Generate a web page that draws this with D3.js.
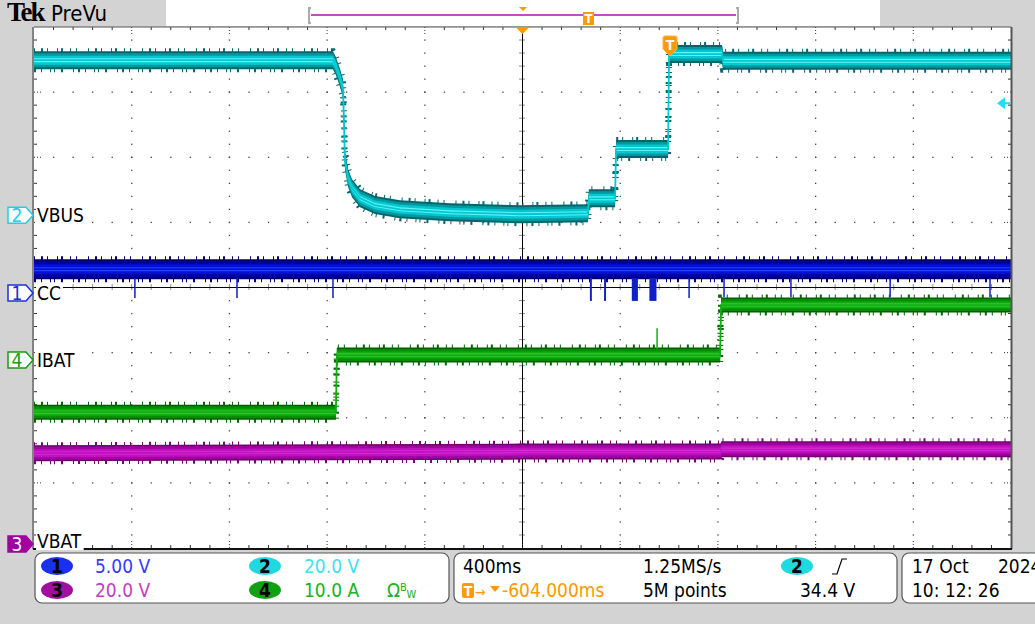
<!DOCTYPE html>
<html lang="en">
<head>
<meta charset="utf-8">
<script src="https://cdn.jsdelivr.net/npm/d3@7"></script>
<style>
  body { margin: 0; background: #d3d3d3; }
  svg text { font-family: 'Liberation Sans Narrow', 'DejaVu Sans Condensed', 'Liberation Sans', sans-serif; }
</style>
</head>
<body>
<script>
// time in ms from the left edge of the screen, 400 ms/div, 10 div
const timeDomain = [0, 4000];

// channel setup: 1 CC, 2 VBUS, 3 VBAT, 4 IBAT
const chIds = [1, 2, 3, 4];
const chNames = ["CC", "VBUS", "VBAT", "IBAT"];
const chPos = [-0.086, 1.11, -3.94, -1.115];        // ground position, divisions
const chPerDiv = [5, 20, 20, 10];
const chScaleText = ["5.00 V", "20.0 V", "20.0 V", "10.0 A"];

// CH2 VBUS (V)
const vbusT = [0, 1224, 1236, 1253, 1265, 1269, 1273, 1286, 1302, 1335, 1396, 1498, 1703, 1990, 2268,
               2272, 2379, 2383, 2596, 2600, 2817, 2821, 4000];
const vbusV = [47.6, 47.6, 45.8, 42.1, 39.0, 29.2, 16.9, 11.4, 8.3, 5.2, 3.1, 1.8, 0.9, 0.3, 0.6,
               5.2, 5.2, 20.3, 20.3, 49.5, 49.5, 47.4, 47.4];

// CH1 CC (V)
const ccT = [0, 4000];
const ccV = [1.84, 1.84];
const ccSpikeT = [413, 831, 1224, 2280, 2338, 2460, 2534, 2682, 2825, 3099, 3505, 3914];
const ccSpikeW = [6, 6, 6, 8, 8, 25, 29, 6, 6, 6, 6, 6];
const ccSpikeV = [-0.38, -0.38, -0.38, -0.6, -0.6, -0.6, -0.6, -0.38, -0.31, -0.31, -0.31, -0.31];

// CH4 IBAT (A)
const ibatT = [0, 1236, 1240, 2809, 2813, 4000];
const ibatV = [-8.0, -8.0, 0.77, 0.77, 8.45, 8.45];
const ibatGlitchT = [2551];
const ibatGlitchV = [4.9];

// CH3 VBAT (V)
const vbatT = [0, 1230, 2000, 2811, 2815, 4000];
const vbatV = [27.9, 28.2, 28.4, 28.4, 29.1, 29.1];

// trigger
const trigT = 2604;
const trigLevel = 34.4;

// readouts
const timebaseText = "400ms";
const sampleText = "1.25MS/s";
const pointsText = "5M points";
const delayText = "-604.000ms";
const trigLevelText = "34.4 V";
const dateText = ["17 Oct", "2024", "10: 12: 26"];

const W = 1035, H = 624;
const x0 = 34, x1 = 1011, y0 = 27, y1 = 548;
const divW = (x1 - x0) / 10, divH = (y1 - y0) / 8;

const svg = d3.select("body").append("svg").attr("width", W).attr("height", H);

const xScale = d3.scaleLinear().domain(timeDomain).range([x0, x1]);
const yDiv = d3.scaleLinear().domain([-4, 4]).range([y1, y0]);
const yOf = (ch) => (v) => yDiv(chPos[ch] + v / chPerDiv[ch]);

// backgrounds
svg.append("rect").attr("width", W).attr("height", H).attr("fill", "#d3d3d3");
svg.append("rect").attr("x", 166).attr("y", 0).attr("width", 714).attr("height", 26).attr("fill", "#fff");
svg.append("rect").attr("x", x0).attr("y", y0).attr("width", x1 - x0).attr("height", y1 - y0).attr("fill", "#fff");

// header
svg.append("text").attr("x", 7).attr("y", 21).attr("font-size", 27)
  .style("font-family", "'Liberation Serif', serif").attr("font-weight", "bold")
  .attr("letter-spacing", -2).text("Tek");
svg.append("text").attr("x", 51).attr("y", 21).attr("font-size", 22).text("PreVu");

// record bar
svg.append("path").attr("d", "M311,8 L309,8 L309,23 L311,23").attr("fill", "none").attr("stroke", "#aaa").attr("stroke-width", 2);
svg.append("path").attr("d", "M736,8 L738,8 L738,23 L736,23").attr("fill", "none").attr("stroke", "#aaa").attr("stroke-width", 2);
svg.append("line").attr("x1", 311).attr("x2", 736).attr("y1", 15).attr("y2", 15).attr("stroke", "#c050c0").attr("stroke-width", 2);
svg.append("path").attr("d", "M519,7 L527,7 L523,11 Z").attr("fill", "#ff9900");
svg.append("rect").attr("x", 583).attr("y", 12).attr("width", 11).attr("height", 13).attr("fill", "#ff9900");
svg.append("text").attr("x", 588.5).attr("y", 23).attr("text-anchor", "middle").attr("font-size", 13).attr("fill", "#fff").attr("font-weight", "bold").text("T");

// graticule
const grid = svg.append("g");
const dot = (x, y) => grid.append("rect").attr("x", x - 0.6).attr("y", y - 0.6).attr("width", 1.3).attr("height", 1.3).attr("fill", "#444");
for (let k = 1; k < 10; k++) {
  if (k === 5) continue;
  for (let j = 1; j < 40; j++) dot(x0 + k * divW, y0 + j * divH / 5);
}
for (let k = 1; k < 8; k++) {
  if (k === 4) continue;
  for (let i = 1; i < 50; i++) dot(x0 + i * divW / 5, y0 + k * divH);
}
const xc = x0 + 5 * divW, yc = y0 + 4 * divH;
grid.append("line").attr("x1", xc).attr("x2", xc).attr("y1", y0).attr("y2", y1).attr("stroke", "#000");
grid.append("line").attr("x1", x0).attr("x2", x1).attr("y1", yc).attr("y2", yc).attr("stroke", "#000");
for (let i = 1; i < 50; i++) {
  const x = x0 + i * divW / 5;
  grid.append("line").attr("x1", x).attr("x2", x).attr("y1", yc - 3).attr("y2", yc + 3).attr("stroke", "#222").attr("stroke-dasharray", "1 1");
  grid.append("line").attr("x1", x).attr("x2", x).attr("y1", y0).attr("y2", y0 + (i % 5 ? 3 : 7)).attr("stroke", "#333").attr("stroke-dasharray", i % 5 ? null : "1 2");
  grid.append("line").attr("x1", x).attr("x2", x).attr("y1", y1).attr("y2", y1 - (i % 5 ? 3 : 7)).attr("stroke", "#333").attr("stroke-dasharray", i % 5 ? null : "1 2");
}
for (let j = 1; j < 40; j++) {
  const y = y0 + j * divH / 5;
  grid.append("line").attr("y1", y).attr("y2", y).attr("x1", xc - 3).attr("x2", xc + 3).attr("stroke", "#222").attr("stroke-dasharray", "1 1");
  grid.append("line").attr("y1", y).attr("y2", y).attr("x1", x0).attr("x2", x0 + (j % 5 ? 3 : 7)).attr("stroke", "#333").attr("stroke-dasharray", j % 5 ? null : "1 2");
  grid.append("line").attr("y1", y).attr("y2", y).attr("x1", x1).attr("x2", x1 - (j % 5 ? 3 : 7)).attr("stroke", "#333").attr("stroke-dasharray", j % 5 ? null : "1 2");
}

// traces: persistence band as stacked areas, fuzzy edges as dashed strokes
function drawTrace(t, v, ch, layers, fuzzColor) {
  const y = yOf(ch);
  const pts = t.map((d, i) => [xScale(d), y(v[i])]);
  const g = svg.append("g");
  const h = layers[0].h;
  [[-h, "1 6 2 4 1 9 1 3 2 7 1 5 1 11"], [h, "2 5 1 8 1 3 1 6 2 10 1 4"]].forEach(([off, dash]) => {
    g.append("path")
      .attr("d", d3.line().x(d => d[0]).y(d => d[1] + off)(pts))
      .attr("fill", "none").attr("stroke", fuzzColor).attr("stroke-width", 6)
      .attr("stroke-dasharray", dash);
  });
  layers.forEach(L => {
    g.append("path")
      .attr("d", d3.area().x(d => d[0]).y0(d => d[1] + L.h).y1(d => d[1] - L.h)(pts))
      .attr("fill", L.c);
  });
  g.append("path").attr("d", d3.line()(pts)).attr("fill", "none")
    .attr("stroke", layers[2].c).attr("stroke-width", 1.8);
  return g;
}

const cyanLayers = [{h: 9, c: "#00666c"}, {h: 7, c: "#0098a0"}, {h: 4.5, c: "#00c8d0"}, {h: 2, c: "#5ef2f6"}];
const blueLayers = [{h: 10, c: "#00006e"}, {h: 8, c: "#0000a4"}, {h: 5, c: "#0010d4"}, {h: 2, c: "#2040ff"}];
const greenLayers = [{h: 7.5, c: "#005e00"}, {h: 6, c: "#008e00"}, {h: 3.5, c: "#10ae10"}, {h: 1.5, c: "#40d040"}];
const magLayers = [{h: 8, c: "#6e006e"}, {h: 6.5, c: "#a000a0"}, {h: 4, c: "#c010c0"}, {h: 1.5, c: "#e040e0"}];

drawTrace(vbatT, vbatV, 2, magLayers, "#7a007a");
drawTrace(ibatT, ibatV, 3, greenLayers, "#006a00");
svg.selectAll(".glitch").data(ibatGlitchT).enter().append("line")
  .attr("x1", d => xScale(d)).attr("x2", d => xScale(d))
  .attr("y1", yOf(3)(ibatV[2]) - 6).attr("y2", (d, i) => yOf(3)(ibatGlitchV[i]))
  .attr("stroke", "#10b010").attr("stroke-width", 1.5);
drawTrace(ccT, ccV, 0, blueLayers, "#00007a");
svg.selectAll(".spike").data(ccSpikeT).enter().append("rect")
  .attr("x", (d, i) => xScale(d - ccSpikeW[i] / 2))
  .attr("width", (d, i) => Math.max(1.5, xScale(ccSpikeW[i]) - xScale(0)))
  .attr("y", yOf(0)(ccV[0]) + 9)
  .attr("height", (d, i) => yOf(0)(ccSpikeV[i]) - yOf(0)(ccV[0]) - 9)
  .attr("fill", "#1020c8");
drawTrace(vbusT, vbusV, 1, cyanLayers, "#006a70");

// frame
svg.append("line").attr("x1", x0 - 1).attr("x2", x0 - 1).attr("y1", y0).attr("y2", y1 + 1).attr("stroke", "#333");
svg.append("line").attr("x1", x0).attr("x2", x1).attr("y1", y0).attr("y2", y0).attr("stroke", "#555");
svg.append("line").attr("x1", x1 + 0.5).attr("x2", x1 + 0.5).attr("y1", y0).attr("y2", y1 + 1).attr("stroke", "#555").attr("stroke-width", 2);
svg.append("line").attr("x1", x0 - 1).attr("x2", x1 + 1).attr("y1", y1 + 1).attr("y2", y1 + 1).attr("stroke", "#111").attr("stroke-width", 2);

// trigger position marker and T on waveform
svg.append("path").attr("d", `M${xc - 7},${y0} L${xc + 7},${y0} L${xc},${y0 + 7} Z`).attr("fill", "#ff9900");
const tx = xScale(trigT);
svg.append("path")
  .attr("d", `M${tx - 7},38 Q${tx - 7},36 ${tx - 5},36 L${tx + 5},36 Q${tx + 7},36 ${tx + 7},38 L${tx + 7},49 L${tx},56 L${tx - 7},49 Z`)
  .attr("fill", "#ff9900").attr("stroke", "#ffb040");
svg.append("text").attr("x", tx).attr("y", 50).attr("text-anchor", "middle")
  .attr("font-size", 14).attr("font-weight", "bold").attr("fill", "#fff").text("T");

// trigger level arrow on the right
const ty = yOf(1)(trigLevel);
svg.append("path").attr("d", `M${x1 - 14},${ty} L${x1 - 6},${ty - 6} L${x1 - 6},${ty + 6} Z`).attr("fill", "#20e0f0");
svg.append("line").attr("x1", x1 - 7).attr("x2", x1 - 1).attr("y1", ty).attr("y2", ty).attr("stroke", "#20e0f0").attr("stroke-width", 2);

// channel markers and labels
const markerColors = ["#2030e0", "#20d0e0", "#a000a0", "#10a010"];
const markerFilled = [false, false, true, false];
chIds.forEach((id, i) => {
  const gy = yOf(i)(0);
  svg.append("path")
    .attr("d", `M8,${gy - 8} L26,${gy - 8} L33,${gy} L26,${gy + 8} L8,${gy + 8} Z`)
    .attr("fill", markerFilled[i] ? markerColors[i] : "#fff")
    .attr("stroke", markerColors[i]).attr("stroke-width", 1.5);
  svg.append("text").attr("x", 17).attr("y", gy + 7).attr("text-anchor", "middle")
    .attr("font-size", 19).attr("fill", markerFilled[i] ? "#fff" : markerColors[i]).text(id);
  const lbl = svg.append("text").attr("x", 37).attr("y", gy + 7 - (i === 2 ? 3 : 0))
    .attr("font-size", 19).attr("fill", "#000").text(chNames[i]);
  const bb = lbl.node().getBBox();
  svg.insert("rect", () => lbl.node()).attr("x", bb.x - 1).attr("y", bb.y + 2).attr("width", bb.width + 3).attr("height", bb.height - 4).attr("fill", "#fff");
});

// readout panels
const panel = (x, w) => svg.append("rect").attr("x", x).attr("y", 553).attr("width", w).attr("height", 50)
  .attr("rx", 7).attr("fill", "#fff").attr("stroke", "#555").attr("stroke-width", 1.2);
panel(35, 414);
panel(454, 443);
panel(902, 150);

const badge = (cx, cy, color, txt) => {
  svg.append("ellipse").attr("cx", cx).attr("cy", cy).attr("rx", 16).attr("ry", 9).attr("fill", color);
  svg.append("text").attr("x", cx).attr("y", cy + 6.5).attr("text-anchor", "middle")
    .attr("font-size", 19).attr("font-weight", "bold").attr("fill", "#000").text(txt);
};
const label = (x, y, txt, color) => svg.append("text").attr("x", x).attr("y", y).attr("font-size", 19).attr("fill", color || "#000").text(txt);

const row1 = 573, row2 = 597;
const scaleColors = ["#3838ff", "#40e0f0", "#c040c0", "#20b020"];
badge(57, 566, "#1a30f0", chIds[0]);
label(95, row1, chScaleText[0], scaleColors[0]);
badge(57, 590, "#a010a0", chIds[2]);
label(95, row2, chScaleText[2], scaleColors[2]);
badge(265, 566, "#20d8e0", chIds[1]);
label(304, row1, chScaleText[1], scaleColors[1]);
badge(265, 590, "#10a010", chIds[3]);
label(304, row2, chScaleText[3], scaleColors[3]);
const bw = label(387, row2, "Ω", scaleColors[3]);
bw.append("tspan").attr("font-size", 11).attr("dy", -6).text("B");
bw.append("tspan").attr("font-size", 11).attr("dy", 7).text("W");

label(463, row1, timebaseText);
label(643, row1, sampleText);
badge(797, 566, "#20d8e0", chIds[1]);
svg.append("path").attr("d", "M832,574 L837,574 L842,559 L847,559").attr("fill", "none").attr("stroke", "#000").attr("stroke-width", 1.2);
svg.append("rect").attr("x", 462).attr("y", 583).attr("width", 12).attr("height", 15).attr("rx", 2).attr("fill", "#ff9900");
svg.append("text").attr("x", 468).attr("y", 596).attr("text-anchor", "middle").attr("font-size", 14).attr("font-weight", "bold").attr("fill", "#fff").text("T");
label(475, row2, "→", "#ff9900").attr("font-size", 14);
svg.append("path").attr("d", "M490,586 L500,586 L495,592 Z").attr("fill", "#ff9900");
label(502, row2, delayText, "#ff9900");
label(643, row2, pointsText);
label(800, row2, trigLevelText);

label(912, row1, dateText[0]);
label(998, row1, dateText[1]);
label(912, row2, dateText[2]);
</script>
</body>
</html>
